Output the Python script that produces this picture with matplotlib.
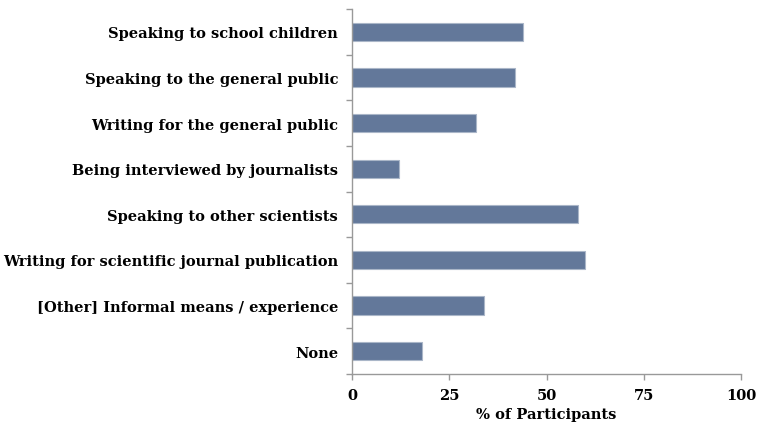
import matplotlib
matplotlib.use("Agg")
import matplotlib.pyplot as plt
import numpy as np

categories = [
    "Speaking to school children",
    "Speaking to the general public",
    "Writing for the general public",
    "Being interviewed by journalists",
    "Speaking to other scientists",
    "Writing for scientific journal publication",
    "[Other] Informal means / experience",
    "None",
]
percent = [44, 42, 32, 12, 58, 60, 34, 18]
x_ticks = [0, 25, 50, 75, 100]

plt.rcParams["font.family"] = ["DejaVu Serif"]
plt.rcParams["font.weight"] = "bold"

fig = plt.figure(figsize=(7.67, 4.35), dpi=100)
ax = fig.add_axes([352 / 767, 60 / 435, 389 / 767, 365 / 435])

y = np.arange(len(categories))
ax.barh(y, percent, height=0.4, color="#63789a", edgecolor="#aab6c8", linewidth=0.8)

ax.set_xlim(0, 100)
ax.set_ylim(len(categories) - 0.5, -0.5)

ax.set_yticks(y)
ax.set_yticklabels(categories, fontsize=10.5, fontweight="bold")
ax.set_yticks(np.arange(len(categories) + 1) - 0.5, minor=True)
ax.tick_params(axis="y", which="major", length=0, pad=10)
ax.tick_params(axis="y", which="minor", length=4, color="#999999", width=1)

ax.set_xticks(x_ticks)
ax.set_xticklabels([str(t) for t in x_ticks], fontsize=10.5, fontweight="bold")
ax.tick_params(axis="x", length=4, color="#999999", width=1, pad=6)
ax.set_xlabel("% of Participants", fontsize=10.5, fontweight="bold", labelpad=4)

for side in ["top", "right"]:
    ax.spines[side].set_visible(False)
for side in ["left", "bottom"]:
    ax.spines[side].set_color("#999999")
    ax.spines[side].set_linewidth(1)

fig.savefig("out.png", dpi=100)
